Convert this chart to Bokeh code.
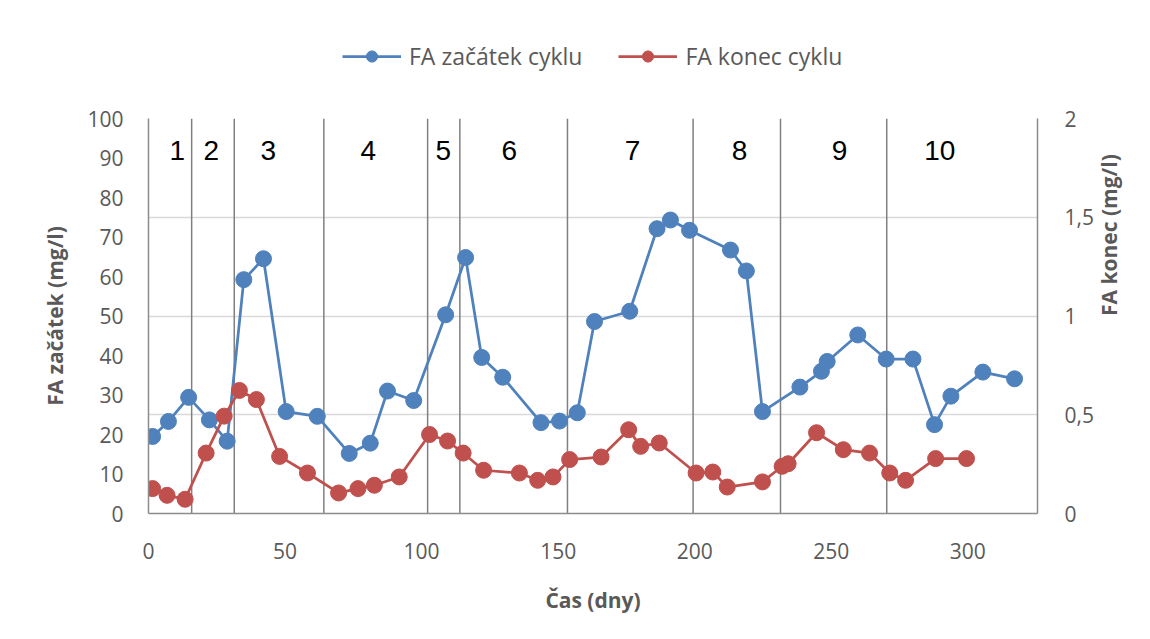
import math
from bokeh.plotting import figure
from bokeh.layouts import column
from bokeh.models import Range1d, LinearAxis, FixedTicker, Legend, LegendItem
from bokeh.core.properties import value
from bokeh.embed import file_html
from bokeh.resources import INLINE

# ---- data ----
start_x = [1.5, 7.3, 14.7, 22.3, 28.8, 34.9, 42.1, 50.4, 61.8, 73.5, 81.2, 87.5, 97.1,
           108.8, 116.1, 122.0, 129.7, 143.7, 150.5, 157.0, 163.3, 176.2, 186.2, 191.1,
           198.1, 213.1, 218.9, 224.8, 238.5, 246.4, 248.5, 259.7, 270.1, 279.9, 287.8,
           293.8, 305.5, 317.1]
start_y = [19.5, 23.3, 29.4, 23.7, 18.3, 59.2, 64.5, 25.8, 24.6, 15.2, 17.8, 31.0, 28.6,
           50.3, 64.8, 39.5, 34.5, 23.0, 23.4, 25.5, 48.6, 51.2, 72.1, 74.3,
           71.7, 66.7, 61.4, 25.8, 32.0, 36.0, 38.5, 45.2, 39.1, 39.1, 22.5,
           29.7, 35.8, 34.1]
end_x = [1.5, 6.8, 13.4, 21.1, 27.7, 33.3, 39.5, 48.0, 58.2, 69.6, 76.7, 82.7, 91.8,
         102.9, 109.5, 115.2, 122.7, 135.8, 142.5, 148.1, 154.2, 165.7, 175.8, 180.2,
         187.0, 200.5, 206.6, 211.9, 224.8, 232.0, 234.2, 244.6, 254.4, 264.0, 271.4,
         277.2, 288.2, 299.5]
end_y = [0.126, 0.092, 0.072, 0.306, 0.493, 0.623, 0.577, 0.289, 0.205, 0.104, 0.126,
         0.143, 0.185, 0.40, 0.367, 0.306, 0.219, 0.205, 0.168, 0.185, 0.273, 0.286,
         0.424, 0.34, 0.357, 0.205, 0.210, 0.134, 0.16, 0.239, 0.252, 0.409, 0.323,
         0.306, 0.205, 0.168, 0.278, 0.278]
cycle_bounds = [15.8, 31.4, 64.2, 102.2, 114.0, 153.4, 199.4, 231.4, 270.3]
cycle_labels = ["1", "2", "3", "4", "5", "6", "7", "8", "9", "10"]
cycle_label_x = [10.5, 23.0, 43.9, 80.5, 107.9, 132.1, 177.2, 216.4, 253.0, 289.7]
cycle_label_y = [91.9] * 10
left_ticks = [0, 10, 20, 30, 40, 50, 60, 70, 80, 90, 100]
right_ticks = [0, 0.5, 1, 1.5, 2]
right_tick_labels = ["0", "0,5", "1", "1,5", "2"]
x_ticks = [0, 50, 100, 150, 200, 250, 300]
series_names = ["FA začátek cyklu", "FA konec cyklu"]

BLUE = "#4F81BD"
RED = "#C0504D"
GREY_TXT = "#595959"
AXIS_GREY = "#8C8C8C"
FONT = "Open Sans"

LEG_H = 80

# ---- legend strip (its renderers lie outside its view; only the legend shows) ----
lg = figure(width=1142, height=LEG_H, output_backend="svg", toolbar_location=None,
            x_range=Range1d(-20, -10), y_range=Range1d(-20, -10),
            min_border_left=0, min_border_right=0, min_border_top=0,
            min_border_bottom=0)
lg.axis.visible = False
lg.grid.visible = False
lg.outline_line_color = None
lg.border_fill_color = "white"
llb = lg.line(start_x, start_y, line_color=BLUE, line_width=2.75)
lsb = lg.scatter(start_x, start_y, size=16, fill_color=BLUE, line_color=BLUE)
llr = lg.line(end_x, end_y, line_color=RED, line_width=2.75)
lsr = lg.scatter(end_x, end_y, size=16, fill_color=RED, line_color=RED)
legend = Legend(items=[LegendItem(label=series_names[0], renderers=[llb, lsb]),
                       LegendItem(label=series_names[1], renderers=[llr, lsr])],
                location=(194, 8), orientation="horizontal")
legend.border_line_color = None
legend.background_fill_alpha = 0
legend.padding = 0
legend.margin = 0
legend.spacing = 36
legend.glyph_width = 59
legend.glyph_height = 28
legend.label_standoff = 8
legend.label_text_font = FONT
legend.label_text_font_size = "23px"
legend.label_text_color = GREY_TXT
lg.add_layout(legend)

# ---- main chart ----
p = figure(width=1142, height=631 - LEG_H, output_backend="svg", toolbar_location=None,
           x_range=Range1d(0, 325.5), y_range=Range1d(0, 100),
           min_border_left=148, min_border_right=105, min_border_top=118 - LEG_H,
           min_border_bottom=118)
p.extra_y_ranges = {"right": Range1d(0, 2)}
p.outline_line_color = None
p.background_fill_color = "white"
p.border_fill_color = "white"

p.xgrid.visible = False
p.ygrid.ticker = FixedTicker(ticks=[25, 50, 75, 100])
p.ygrid.grid_line_color = "#D9D9D9"
p.ygrid.grid_line_width = 1.5

for ax in (p.xaxis[0], p.yaxis[0]):
    ax.axis_line_color = AXIS_GREY
    ax.axis_line_width = 1.5
    ax.major_tick_line_color = None
    ax.minor_tick_line_color = None
    ax.major_tick_out = 0
    ax.major_tick_in = 0
    ax.major_label_text_font = FONT
    ax.major_label_text_font_size = "21px"
    ax.major_label_text_color = GREY_TXT
    ax.axis_label_text_font = FONT
    ax.axis_label_text_font_size = "21px"
    ax.axis_label_text_font_style = "bold"
    ax.axis_label_text_color = GREY_TXT

p.xaxis.ticker = FixedTicker(ticks=x_ticks)
p.xaxis.axis_label = "Čas (dny)"
p.xaxis.major_label_standoff = 29
p.xaxis.axis_label_standoff = 24

p.yaxis.ticker = FixedTicker(ticks=left_ticks)
p.yaxis.axis_label = "FA začátek (mg/l)"
p.yaxis.major_label_standoff = 25
p.yaxis.axis_label_standoff = 15

ra = LinearAxis(y_range_name="right", ticker=FixedTicker(ticks=right_ticks))
ra.major_label_overrides = {t: s for t, s in zip(right_ticks, right_tick_labels)}
ra.axis_label = "FA konec (mg/l)"
ra.axis_label_orientation = math.pi / 2
ra.axis_line_color = AXIS_GREY
ra.axis_line_width = 1.5
ra.major_tick_line_color = None
ra.minor_tick_line_color = None
ra.major_tick_out = 0
ra.major_tick_in = 0
ra.major_label_standoff = 27
ra.axis_label_standoff = 12
ra.major_label_text_font = FONT
ra.major_label_text_font_size = "21px"
ra.major_label_text_color = GREY_TXT
ra.axis_label_text_font = FONT
ra.axis_label_text_font_size = "21px"
ra.axis_label_text_font_style = "bold"
ra.axis_label_text_color = GREY_TXT
p.add_layout(ra, "right")

p.segment(x0=cycle_bounds, y0=[0] * len(cycle_bounds), x1=cycle_bounds,
          y1=[100] * len(cycle_bounds), line_color="#808080", line_width=1.5)

p.text(x=cycle_label_x, y=cycle_label_y, text=cycle_labels,
       text_font=value("Liberation Sans"), text_font_size="28px",
       text_align="center", text_baseline="middle", text_color="black")

p.line(start_x, start_y, line_color=BLUE, line_width=2.75)
p.scatter(start_x, start_y, size=16, fill_color=BLUE, line_color=BLUE)
p.line(end_x, end_y, line_color=RED, line_width=2.75, y_range_name="right")
p.scatter(end_x, end_y, size=16, fill_color=RED, line_color=RED,
          y_range_name="right")

layout = column(lg, p, spacing=0)
open("out.html", "w").write(file_html(layout, INLINE))
